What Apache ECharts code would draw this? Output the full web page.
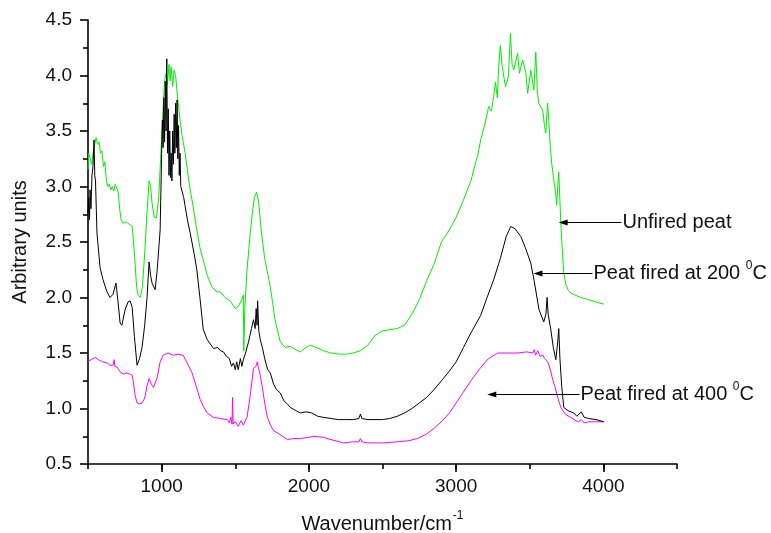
<!DOCTYPE html>
<html>
<head>
<meta charset="utf-8">
<script src="https://cdn.jsdelivr.net/npm/echarts@6/dist/echarts.min.js"></script>
<style>
html,body{margin:0;padding:0;background:#fff;}
#main{width:771px;height:533px;}
</style>
</head>
<body>
<div id="main"></div>
<script>
// ---- data (wavenumber, arbitrary units) ----
const unfiredPeat = [
[500,3.15],[505,3.3],[515,3.25],[525,3.2],[540,3.35],[555,3.44],[565,3.38],[575,3.4],[585,3.3],[595,3.32],
[605,3.18],[615,3.22],[625,3.05],[635,3.0],[645,3.02],[655,2.97],[665,3.0],[675,2.96],[685,3.02],[695,3.03],
[705,2.95],[715,2.8],[725,2.7],[740,2.67],[760,2.68],[780,2.66],[800,2.64],[815,2.4],[830,2.1],[840,2.02],
[855,2.0],[870,2.1],[885,2.4],[900,2.75],[915,3.05],[925,3.0],[935,2.85],[950,2.72],[965,2.72],[980,2.9],
[995,3.3],[1010,3.7],[1020,3.95],[1030,4.02],[1040,3.92],[1050,4.1],[1058,3.95],[1065,4.08],[1075,3.9],[1085,4.05],
[1095,4.0],[1105,3.85],[1115,3.72],[1125,3.6],[1140,3.45],[1160,3.3],[1175,3.15],[1190,3.0],[1210,2.85],[1230,2.68],
[1260,2.45],[1290,2.3],[1310,2.2],[1340,2.1],[1375,2.05],[1400,2.05],[1430,2.0],[1466,1.97],[1500,1.9],[1520,1.92],
[1540,1.97],[1555,2.02],[1558,1.52],[1565,1.9],[1580,2.25],[1600,2.55],[1615,2.75],[1630,2.9],[1645,2.95],[1660,2.85],
[1675,2.62],[1700,2.35],[1738,2.1],[1770,1.8],[1806,1.6],[1840,1.55],[1874,1.56],[1910,1.53],[1942,1.51],[1980,1.55],
[2010,1.57],[2050,1.55],[2100,1.52],[2150,1.5],[2200,1.49],[2260,1.49],[2300,1.5],[2350,1.52],[2400,1.57],[2450,1.66],
[2500,1.7],[2550,1.71],[2600,1.72],[2650,1.75],[2700,1.85],[2750,1.98],[2800,2.15],[2850,2.3],[2880,2.42],[2900,2.5],
[2950,2.6],[3000,2.72],[3050,2.88],[3100,3.05],[3150,3.3],[3167,3.42],[3199,3.58],[3221,3.72],[3240,3.68],[3255,3.81],
[3267,3.94],[3280,3.8],[3289,4.08],[3300,4.27],[3313,4.08],[3335,3.9],[3355,3.99],[3369,4.38],[3380,4.1],[3391,4.05],
[3418,4.2],[3430,4.02],[3452,4.14],[3473,4.03],[3486,3.84],[3507,4.05],[3528,3.87],[3541,4.21],[3551,3.87],[3561,3.75],
[3588,3.69],[3600,3.55],[3609,3.48],[3621,3.75],[3629,3.6],[3640,3.35],[3650,3.2],[3663,3.06],[3675,2.95],[3683,2.83],
[3690,3.0],[3697,3.13],[3704,2.9],[3711,2.67],[3720,2.45],[3731,2.22],[3745,2.12],[3760,2.07],[3779,2.04],[3810,2.02],
[3847,2.0],[3900,1.98],[3950,1.96],[4003,1.94]
];
const peatFired200 = [
[500,2.76],[505,2.9],[510,2.7],[514,2.97],[520,2.8],[527,3.1],[534,3.18],[541,3.42],[546,3.1],[551,3.05],
[561,2.58],[582,2.27],[602,2.16],[629,2.05],[650,2.0],[670,2.03],[690,2.13],[705,1.95],[718,1.77],[730,1.75],
[752,1.89],[772,1.96],[786,1.97],[800,1.91],[815,1.65],[833,1.39],[850,1.45],[867,1.55],[885,1.75],[901,2.0],
[915,2.32],[925,2.2],[935,2.13],[956,2.07],[970,2.25],[990,2.61],[1000,3.3],[1005,3.6],[1010,3.35],[1015,3.8],
[1020,3.4],[1025,3.95],[1030,3.5],[1035,4.15],[1040,3.3],[1045,3.7],[1050,3.1],[1055,3.5],[1060,3.08],[1065,3.3],
[1070,3.05],[1075,3.5],[1080,3.2],[1085,3.65],[1090,3.3],[1095,3.75],[1100,3.35],[1105,3.78],[1110,3.25],[1115,3.55],
[1120,3.1],[1125,3.3],[1130,3.0],[1140,3.0],[1150,2.9],[1160,2.82],[1175,2.7],[1194,2.58],[1220,2.4],[1239,2.25],
[1260,2.0],[1283,1.71],[1310,1.62],[1352,1.54],[1380,1.55],[1400,1.52],[1420,1.51],[1440,1.47],[1460,1.45],[1475,1.38],
[1488,1.41],[1500,1.35],[1510,1.42],[1520,1.35],[1535,1.45],[1545,1.38],[1555,1.44],[1570,1.5],[1590,1.6],[1610,1.72],
[1624,1.8],[1635,1.72],[1642,1.9],[1648,1.75],[1652,1.97],[1660,1.7],[1670,1.62],[1684,1.55],[1700,1.45],[1720,1.35],
[1738,1.32],[1760,1.22],[1780,1.17],[1806,1.14],[1830,1.07],[1854,1.04],[1874,1.01],[1900,0.99],[1942,0.96],[1980,0.97],
[2020,0.96],[2060,0.93],[2100,0.92],[2150,0.91],[2200,0.9],[2250,0.9],[2300,0.9],[2340,0.91],[2350,0.95],[2360,0.91],
[2400,0.9],[2450,0.9],[2500,0.9],[2550,0.91],[2600,0.93],[2650,0.96],[2700,1.0],[2750,1.05],[2800,1.1],[2850,1.17],
[2900,1.25],[2950,1.33],[3000,1.42],[3050,1.55],[3100,1.68],[3167,1.84],[3210,2.0],[3255,2.16],[3300,2.35],[3340,2.55],
[3371,2.64],[3400,2.62],[3439,2.55],[3470,2.45],[3507,2.31],[3530,2.15],[3563,1.89],[3595,1.78],[3610,1.85],[3618,2.0],
[3625,1.85],[3643,1.71],[3660,1.55],[3677,1.44],[3690,1.6],[3697,1.72],[3705,1.45],[3717,1.2],[3731,1.01],[3760,0.98],
[3799,0.96],[3820,0.93],[3850,0.97],[3870,0.92],[3900,0.91],[3950,0.9],[4003,0.88]
];
const peatFired400 = [
[500,1.42],[520,1.44],[548,1.46],[570,1.44],[600,1.42],[630,1.41],[650,1.39],[670,1.39],[678,1.44],[682,1.38],
[700,1.37],[718,1.33],[740,1.31],[760,1.32],[786,1.31],[800,1.3],[806,1.26],[820,1.12],[833,1.05],[850,1.04],
[867,1.05],[880,1.08],[888,1.11],[900,1.2],[915,1.27],[930,1.22],[945,1.19],[956,1.19],[970,1.28],[990,1.42],
[1010,1.48],[1044,1.5],[1080,1.48],[1110,1.49],[1146,1.48],[1173,1.41],[1207,1.32],[1228,1.23],[1262,1.08],[1283,1.02],
[1310,0.96],[1352,0.92],[1400,0.91],[1446,0.9],[1460,0.87],[1470,0.92],[1478,0.86],[1482,1.1],[1486,0.86],[1500,0.88],
[1520,0.84],[1540,0.89],[1555,0.85],[1565,0.88],[1580,0.92],[1600,1.1],[1624,1.36],[1640,1.38],[1650,1.42],[1660,1.35],
[1670,1.3],[1684,1.19],[1700,1.05],[1718,0.92],[1740,0.85],[1760,0.8],[1786,0.78],[1820,0.75],[1854,0.72],[1900,0.73],
[1942,0.73],[2000,0.74],[2031,0.75],[2100,0.74],[2150,0.72],[2235,0.69],[2300,0.7],[2340,0.7],[2350,0.73],[2360,0.7],
[2400,0.69],[2507,0.69],[2600,0.7],[2680,0.71],[2738,0.73],[2800,0.77],[2850,0.82],[2915,0.9],[2960,0.97],[3000,1.05],
[3050,1.15],[3100,1.25],[3167,1.37],[3220,1.45],[3282,1.5],[3350,1.5],[3420,1.5],[3480,1.51],[3520,1.5],[3530,1.53],
[3540,1.48],[3554,1.52],[3570,1.47],[3590,1.48],[3600,1.45],[3622,1.42],[3640,1.35],[3656,1.26],[3670,1.2],[3690,1.1],
[3711,1.01],[3740,0.95],[3779,0.92],[3800,0.9],[3830,0.88],[3850,0.9],[3870,0.87],[3900,0.88],[4003,0.88]
];
const xMajorTicks = [1000, 2000, 3000, 4000];
const seriesNames = ['Unfired peat', 'Peat fired at 200 \u00B0C', 'Peat fired at 400 \u00B0C'];
// annotation labels (text, superscript, suffix) and their arrow anchors in data units
const annoText = [['Unfired peat', '', ''], ['Peat fired at 200 ', '0', 'C'], ['Peat fired at 400 ', '0', 'C']];
const annoTail = [[4123, 2.68], [3926, 2.22], [3838, 1.13]];
const annoTip  = [[3696, 2.68], [3525, 2.22], [3212, 1.13]];

const FONT = "'Liberation Sans', Arial, sans-serif";
const chart = echarts.init(document.getElementById('main'));
const option = {
  animation: false,
  backgroundColor: '#fff',
  grid: {left: 88, top: 20, right: 94, bottom: 69, containLabel: false, outerBoundsMode: 'none'},
  xAxis: [{
    type: 'value', min: 500, max: 4500, interval: 500,
    name: '{a|Wavenumber/cm}{s|-1}', nameLocation: 'middle', nameGap: 46,
    nameTextStyle: {rich: {
      a: {fontFamily: FONT, fontSize: 20, color: '#111', lineHeight: 24, verticalAlign: 'bottom'},
      s: {fontFamily: FONT, fontSize: 12, color: '#111', lineHeight: 24, verticalAlign: 'top', padding:[0,0,0,1]}
    }},
    axisLine: {show: true, onZero: false, lineStyle: {color: '#000', width: 1.6}},
    axisTick: {show: true, inside: false, length: 8, customValues: xMajorTicks, lineStyle: {color: '#000', width: 1.6}},
    axisLabel: {show: true, customValues: xMajorTicks, margin: 13, fontFamily: FONT, fontSize: 19, color: '#111',
      formatter: v => String(v)},
    splitLine: {show: false}
  }, {
    type: 'value', min: 500, max: 4500, interval: 500, position: 'bottom', offset: 0,
    axisLine: {show: false},
    axisTick: {show: true, inside: false, length: 5, lineStyle: {color: '#000', width: 1.6}},
    axisLabel: {show: false},
    splitLine: {show: false}
  }],
  yAxis: {
    type: 'value', min: 0.5, max: 4.5, interval: 0.5,
    name: 'Arbitrary units', nameLocation: 'middle', nameRotate: 90, nameGap: 58,
    nameTextStyle: {fontFamily: FONT, fontSize: 20, color: '#111'},
    axisLine: {show: true, onZero: false, lineStyle: {color: '#000', width: 1.6}},
    axisTick: {show: true, inside: false, length: 8, lineStyle: {color: '#000', width: 1.6}},
    minorTick: {show: true, splitNumber: 2, length: 5, lineStyle: {color: '#000', width: 1.6}},
    axisLabel: {margin: 16, fontFamily: FONT, fontSize: 19, color: '#111', formatter: v => v.toFixed(1)},
    splitLine: {show: false}
  },
  series: [
    {name: seriesNames[0], type: 'line', data: unfiredPeat, showSymbol: false, symbol: 'none',
     lineStyle: {color: '#00f000', width: 1}, itemStyle: {color: '#00f000'}, z: 2},
    {name: seriesNames[2], type: 'line', data: peatFired400, showSymbol: false, symbol: 'none',
     lineStyle: {color: '#ff00ff', width: 1}, itemStyle: {color: '#ff00ff'}, z: 3},
    {name: seriesNames[1], type: 'line', data: peatFired200, showSymbol: false, symbol: 'none',
     lineStyle: {color: '#000000', width: 1}, itemStyle: {color: '#000'}, z: 4}
  ]
};
chart.setOption(option);

const graphics = [];
annoText.forEach((t, i) => {
  const tail = chart.convertToPixel({xAxisIndex: 0, yAxisIndex: 0}, annoTail[i]);
  const tip = chart.convertToPixel({xAxisIndex: 0, yAxisIndex: 0}, annoTip[i]);
  const y = Math.round(tip[1]) + 0.5;
  graphics.push({type: 'line', shape: {x1: tail[0], y1: y, x2: tip[0] + 4, y2: y},
    style: {stroke: '#000', lineWidth: 1}, z: 10});
  graphics.push({type: 'polygon', shape: {points: [[tip[0], y], [tip[0] + 9, y - 3], [tip[0] + 9, y + 3]]},
    style: {fill: '#000'}, z: 10});
  const txt = t[1] ? '{a|' + t[0] + '}{s|' + t[1] + '}{a|' + t[2] + '}' : '{a|' + t[0] + '}';
  graphics.push({type: 'text', x: tail[0] + 1, y: y - 2, z: 10,
    style: {text: txt, verticalAlign: 'middle', align: 'left',
      rich: {
        a: {fontFamily: FONT, fontSize: 20, fill: '#111', lineHeight: 24, verticalAlign: 'bottom'},
        s: {fontFamily: FONT, fontSize: 12, fill: '#111', lineHeight: 24, verticalAlign: 'top'}
      }}});
});
chart.setOption({graphic: graphics});
</script>
</body>
</html>
